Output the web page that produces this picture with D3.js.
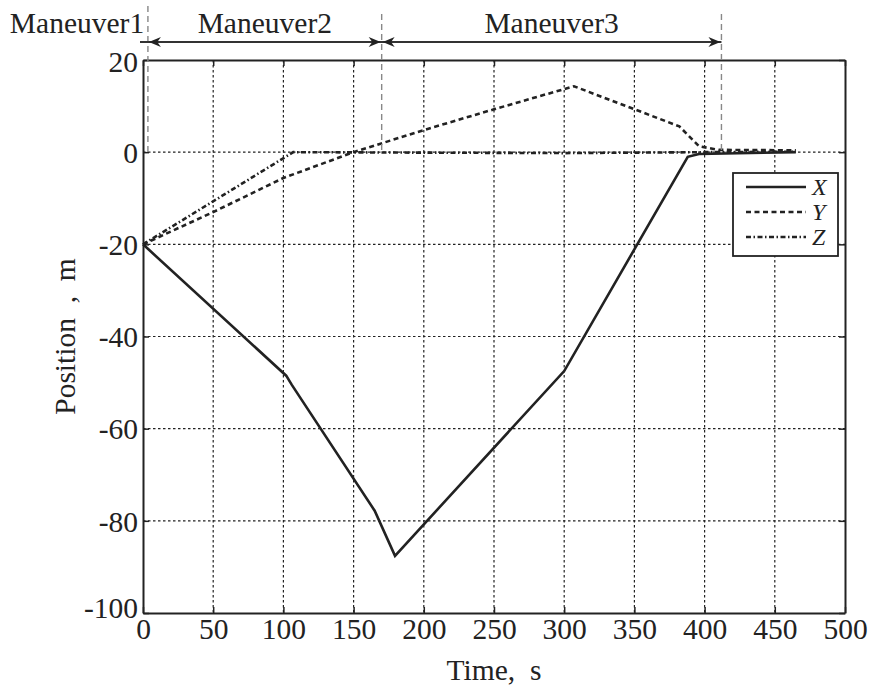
<!DOCTYPE html>
<html>
<head>
<meta charset="utf-8">
<script src="https://cdn.jsdelivr.net/npm/d3@7"></script>
<style>
  body { margin: 0; background: #fff; }
</style>
</head>
<body>
<svg width="878" height="696"></svg>
<script>
// data
var xTicks = [0, 50, 100, 150, 200, 250, 300, 350, 400, 450, 500];
var yTicks = [20, 0, -20, -40, -60, -80, -100];

var timeX = [0, 102, 106, 165, 179.5, 300, 388, 396, 465];
var valX  = [-20, -48.5, -50.5, -77.8, -87.6, -47.5, -1.0, -0.4, 0];

var timeY = [0, 50, 100, 150, 200, 250, 307, 382, 396, 410, 465];
var valY  = [-20, -13, -5.6, 0, 4.8, 9.3, 14.3, 5.6, 1.3, 0.5, 0.4];

var timeZ = [0, 107, 200, 300, 400, 465];
var valZ  = [-20, 0, -0.1, -0.2, 0, 0.1];

var seriesNames = ["X", "Y", "Z"];
var dashes = [null, "5,3.5", "5,2.5,1.5,2.5"];

// maneuver boundaries (s) and labels
var bounds = [3.5, 170, 412];
var maneuverLabels = ["Maneuver1", "Maneuver2", "Maneuver3"];

var svg = d3.select("svg");
// plot box (note: "top" is taken by window.top, so use other names)
var pLeft = 143, pRight = 845, pTop = 60, pBottom = 613;

var x = d3.scaleLinear().domain([0, 500]).range([pLeft, pRight]);
var y = d3.scaleLinear().domain([-100, 20]).range([pBottom, pTop]);

// grid
var grid = svg.append("g");
grid.selectAll(".gx").data(xTicks.slice(1, -1)).enter().append("line")
	.attr("x1", d => x(d)).attr("x2", d => x(d))
	.attr("y1", pTop).attr("y2", pBottom)
	.attr("stroke", "#222").attr("stroke-width", 1.2).attr("stroke-dasharray", "2.5,2.5");
grid.selectAll(".gy").data(yTicks.slice(1, -1)).enter().append("line")
	.attr("x1", pLeft).attr("x2", pRight)
	.attr("y1", d => y(d)).attr("y2", d => y(d))
	.attr("stroke", "#222").attr("stroke-width", 1.2).attr("stroke-dasharray", "2.5,2.5");

// axes, ticks pointing inward, plain hyphen for minus like the original
var fmt = d => String(d);
var gB = svg.append("g").attr("transform", "translate(0," + pBottom + ")")
	.call(d3.axisBottom(x).tickValues(xTicks).tickFormat(fmt).tickSizeInner(-6).tickSizeOuter(0).tickPadding(5));
var gT = svg.append("g").attr("transform", "translate(0," + pTop + ")")
	.call(d3.axisTop(x).tickValues(xTicks).tickSizeInner(-6).tickSizeOuter(0).tickFormat(""));
var gL = svg.append("g").attr("transform", "translate(" + pLeft + ",0)")
	.call(d3.axisLeft(y).tickValues(yTicks).tickFormat(fmt).tickSizeInner(-6).tickSizeOuter(0).tickPadding(5));
var gR = svg.append("g").attr("transform", "translate(" + pRight + ",0)")
	.call(d3.axisRight(y).tickValues(yTicks).tickSizeInner(-6).tickSizeOuter(0).tickFormat(""));

[gB, gT, gL, gR].forEach(function(g){
	g.select(".domain").attr("stroke", "#222").attr("stroke-width", 2);
	g.selectAll(".tick line").attr("stroke", "#222").attr("stroke-width", 1.5);
	g.selectAll("text").attr("font-size", 29.5).attr("fill", "#222");
});
gL.selectAll(".tick text").attr("dy", "0.35em");
// nudge the corner labels like the original
gL.selectAll(".tick text").filter(d => d == -100).attr("dy", "0.15em");
gL.selectAll(".tick text").filter(d => d == 20).attr("dy", "0.4em");

// series
var sets = [[timeX, valX], [timeY, valY], [timeZ, valZ]];
var line = d3.line().x(d => x(d[0])).y(d => y(d[1]));
sets.forEach(function(s, i){
	var pts = s[0].map((t, k) => [t, s[1][k]]);
	svg.append("path").datum(pts)
		.attr("d", line)
		.attr("fill", "none")
		.attr("stroke", "#222")
		.attr("stroke-width", 2.6)
		.attr("stroke-dasharray", dashes[i]);
});

// maneuver annotations
var ann = svg.append("g");
var arrowY = 42;
var dashTop = [6, 14, 14];
bounds.forEach(function(b, i){
	ann.append("line")
		.attr("x1", x(b)).attr("x2", x(b))
		.attr("y1", dashTop[i]).attr("y2", y(0))
		.attr("stroke", "#888").attr("stroke-width", 1.4).attr("stroke-dasharray", "6,4");
});
ann.append("line")
	.attr("x1", 140).attr("x2", x(bounds[2]))
	.attr("y1", arrowY).attr("y2", arrowY)
	.attr("stroke", "#333").attr("stroke-width", 1.8);

function arrowHead(px, dir){
	// dir = -1 points left, +1 points right
	var len = 12, hw = 5;
	ann.append("path")
		.attr("d", "M" + px + "," + arrowY +
			"L" + (px - dir * len) + "," + (arrowY - hw) +
			"L" + (px - dir * len * 0.7) + "," + arrowY +
			"L" + (px - dir * len) + "," + (arrowY + hw) + "Z")
		.attr("fill", "#222");
}
arrowHead(x(bounds[0]) + 1, -1);
arrowHead(x(bounds[1]) - 1, 1);
arrowHead(x(bounds[1]) + 1, -1);
arrowHead(x(bounds[2]) - 1, 1);

ann.append("text").attr("x", 77).attr("y", 33).attr("text-anchor", "middle")
	.attr("font-size", 29.5).text(maneuverLabels[0]);
ann.append("text").attr("x", (x(bounds[0]) + x(bounds[1])) / 2).attr("y", 33).attr("text-anchor", "middle")
	.attr("font-size", 29.5).text(maneuverLabels[1]);
ann.append("text").attr("x", (x(bounds[1]) + x(bounds[2])) / 2).attr("y", 33).attr("text-anchor", "middle")
	.attr("font-size", 29.5).text(maneuverLabels[2]);

// axis titles
svg.append("text").attr("x", 494).attr("y", 680).attr("text-anchor", "middle")
	.attr("font-size", 29.5).style("white-space", "pre").text("Time,  s");
svg.append("text").attr("transform", "translate(75," + ((pTop + pBottom) / 2) + ") rotate(-90)")
	.attr("text-anchor", "middle").attr("font-size", 29.5).style("white-space", "pre").text("Position  ,  m");

// legend
var lg = svg.append("g").attr("transform", "translate(733,173)");
lg.append("rect").attr("width", 105).attr("height", 83)
	.attr("fill", "#fff").attr("stroke", "#222").attr("stroke-width", 1.8);
seriesNames.forEach(function(n, i){
	var ly = 14 + i * 25;
	lg.append("line").attr("x1", 13).attr("x2", 73).attr("y1", ly).attr("y2", ly)
		.attr("stroke", "#222").attr("stroke-width", 2.6).attr("stroke-dasharray", dashes[i]);
	lg.append("text").attr("x", 79).attr("y", ly + 8).attr("font-size", 24)
		.attr("font-style", "italic").text(n);
});

// one serif face for every label
svg.selectAll("text").style("font-family", "Liberation Serif").attr("fill", "#222");
</script>
</body>
</html>
